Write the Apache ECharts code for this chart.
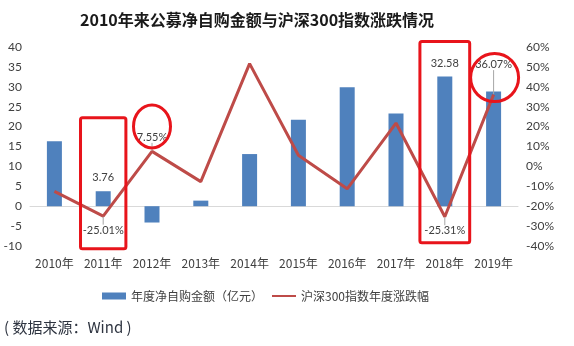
<!DOCTYPE html>
<html>
<head>
<meta charset="utf-8">
<script src="https://cdn.jsdelivr.net/npm/echarts@6/dist/echarts.min.js"></script>
<style>
  html, body { margin: 0; padding: 0; background: #fff; }
  #chart { width: 574px; height: 346px; }
</style>
</head>
<body>
<div id="chart"></div>
<script>
// Years on the category axis
const years = ['2010年', '2011年', '2012年', '2013年', '2014年', '2015年', '2016年', '2017年', '2018年', '2019年'];
// Annual net self-purchase by public funds (100 million yuan)
const netBuyback = [16.3, 3.76, -4.1, 1.4, 13.1, 21.7, 29.9, 23.3, 32.58, 28.8];
// CSI 300 annual change (%)
const csi300Change = [-12.51, -25.01, 7.55, -7.65, 51.66, 5.58, -11.28, 21.78, -25.31, 36.07];
// Axis ranges
const leftAxisRange = [-10, 40, 5];
const rightAxisRange = [-40, 60, 10];
// Which points carry a value label
const labelledBars = [1, 8];
const labelledPointsBelow = [1, 8];
const labelledPointsAbove = [2, 9];

const FONT = "Lato, 'Noto Sans CJK SC', sans-serif";
const CJK = "'Noto Sans CJK SC', sans-serif";
const LINE_RED = '#BE4B48';

const chart = echarts.init(document.getElementById('chart'), null, { renderer: 'canvas' });

const barData = netBuyback.map((v, i) => ({
  value: v,
  label: { show: labelledBars.includes(i) }
}));

const lineData = csi300Change.map((v, i) => {
  const below = labelledPointsBelow.includes(i);
  const above = labelledPointsAbove.includes(i);
  return {
    value: v,
    label: { show: below || above, position: below ? 'bottom' : 'top', distance: 8 }
  };
});

const sourceNote = {
  type: 'text', left: 4, top: 320,
  style: { text: '( 数据来源：Wind )', fontFamily: CJK, fontSize: 15, fill: '#2e3440' }
};

chart.setOption({
  animation: false,
  title: {
    text: '2010年来公募净自购金额与沪深300指数涨跌情况',
    left: 75, top: 7,
    textStyle: { fontFamily: CJK, fontSize: 16, fontWeight: 'bold', color: '#1a1a1a' }
  },
  legend: {
    left: 97, top: 285,
    itemWidth: 24, itemHeight: 7, itemGap: 8,
    textStyle: { fontFamily: CJK, fontSize: 12, color: '#404040' },
    data: [
      { name: '年度净自购金额（亿元）', icon: 'rect' },
      { name: '沪深300指数年度涨跌幅' }
    ]
  },
  grid: { left: 30, right: 56, top: 47, bottom: 100 },
  xAxis: {
    type: 'category',
    data: years,
    axisLine: { show: true, onZero: true, lineStyle: { color: '#d9d9d9', width: 1 } },
    axisTick: { show: false },
    axisLabel: { fontFamily: CJK, fontSize: 12, color: '#404040', margin: 11, interval: 0 }
  },
  yAxis: [
    {
      type: 'value',
      min: leftAxisRange[0], max: leftAxisRange[1], interval: leftAxisRange[2],
      splitLine: { show: false },
      axisLine: { show: false }, axisTick: { show: false },
      axisLabel: { fontFamily: FONT, fontSize: 12, color: '#404040', margin: 8 }
    },
    {
      type: 'value',
      min: rightAxisRange[0], max: rightAxisRange[1], interval: rightAxisRange[2],
      splitLine: { show: false },
      axisLine: { show: false }, axisTick: { show: false },
      axisLabel: { fontFamily: FONT, fontSize: 12, color: '#404040', margin: 8, formatter: '{value}%' }
    }
  ],
  series: [
    {
      name: '年度净自购金额（亿元）',
      type: 'bar',
      yAxisIndex: 0,
      barWidth: 15,
      data: barData,
      itemStyle: { color: '#4F81BD' },
      label: {
        position: 'top', distance: 8,
        fontFamily: FONT, fontSize: 11, color: '#404040',
        formatter: p => p.value.toFixed(2)
      }
    },
    {
      name: '沪深300指数年度涨跌幅',
      type: 'line',
      yAxisIndex: 1,
      data: lineData,
      symbol: 'circle',
      symbolSize: 1,
      showSymbol: true,
      lineStyle: { color: LINE_RED, width: 3 },
      itemStyle: { color: 'rgba(0,0,0,0)', borderWidth: 0 },
      label: {
        fontFamily: FONT, fontSize: 11, color: '#404040',
        formatter: p => p.value.toFixed(2) + '%'
      },
      labelLine: { show: true, lineStyle: { color: '#a6a6a6', width: 1 } },
      labelLayout: p => (p.dataIndex === 9 ? { dy: -16 } : {}),
      z: 3
    }
  ],
  graphic: [sourceNote]
});

// Red highlight frames and circles drawn around selected years
const px = name => chart.convertToPixel({ xAxisIndex: 0 }, name);
const pyL = v => chart.convertToPixel({ yAxisIndex: 0 }, v);
const pyR = v => chart.convertToPixel({ yAxisIndex: 1 }, v);
const band = px(years[1]) - px(years[0]);

const frames = [
  { cat: years[1], top: 22.2, bottom: -10.7, half: 0.465 },
  { cat: years[8], top: 41.4, bottom: -9.2, half: 0.51 }
];
const rings = [
  { cat: years[2], value: csi300Change[2], dx: 0, dy: 25, rx: 18.5, ry: 21.5 },
  { cat: years[9], value: csi300Change[9], dx: 1, dy: 17, rx: 24, ry: 24 }
];

const extra = [];
frames.forEach(f => {
  const cx = px(f.cat);
  const y1 = pyL(f.top), y2 = pyL(f.bottom);
  extra.push({
    type: 'rect', z: 100,
    shape: { x: cx - band * f.half, y: y1, width: band * f.half * 2, height: y2 - y1, r: 2 },
    style: { fill: 'none', stroke: '#E8141B', lineWidth: 3 }
  });
});
rings.forEach(r => {
  extra.push({
    type: 'ellipse', z: 100,
    shape: { cx: px(r.cat) + r.dx, cy: pyR(r.value) - r.dy, rx: r.rx, ry: r.ry },
    style: { fill: 'none', stroke: '#E8141B', lineWidth: 3 }
  });
});

chart.setOption({ graphic: [sourceNote].concat(extra) }, { replaceMerge: ['graphic'] });
</script>
</body>
</html>
